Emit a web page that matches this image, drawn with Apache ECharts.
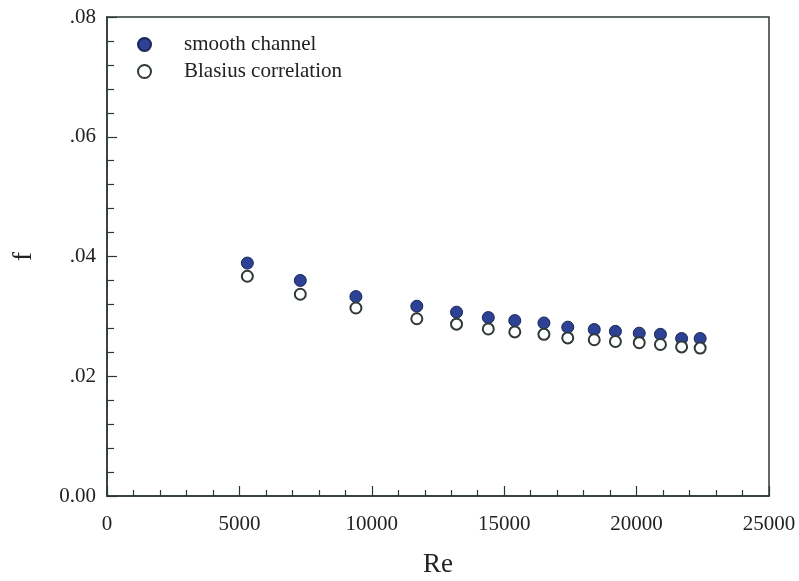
<!DOCTYPE html>
<html>
<head>
<meta charset="utf-8">
<script src="https://cdn.jsdelivr.net/npm/echarts@6/dist/echarts.min.js"></script>
<style>
html,body{margin:0;padding:0;background:#fff;}
#c{width:799px;height:581px;}
</style>
</head>
<body>
<div id="c"></div>
<script>
var reynolds = [5300, 7300, 9400, 11700, 13200, 14400, 15400, 16500, 17400, 18400, 19200, 20100, 20900, 21700, 22400];
var smoothChannel = [0.0389, 0.0360, 0.0333, 0.0317, 0.0307, 0.0298, 0.0293, 0.0289, 0.0282, 0.0278, 0.0275, 0.0272, 0.0270, 0.0263, 0.0263];
var blasius = [0.0367, 0.0337, 0.0314, 0.0296, 0.0287, 0.0279, 0.0274, 0.0270, 0.0264, 0.0261, 0.0258, 0.0256, 0.0253, 0.0249, 0.0247];
var seriesNames = ['smooth channel', 'Blasius correlation'];
var xTicks = [0, 5000, 10000, 15000, 20000, 25000];
var yTickLabels = {0: '0.00', 0.02: '.02', 0.04: '.04', 0.06: '.06', 0.08: '.08'};

function pairs(xs, ys) { return xs.map(function (x, i) { return [x, ys[i]]; }); }

var font = 'Liberation Serif';
var axisColor = '#2c3833';
var chart = echarts.init(document.getElementById('c'), null, {renderer: 'canvas'});
chart.setOption({
  backgroundColor: '#fff',
  animation: false,
  grid: {left: 107, right: 30, top: 17, bottom: 85, containLabel: false, outerBoundsMode: 'none',
         show: true, borderColor: axisColor, borderWidth: 1.5, backgroundColor: 'transparent'},
  legend: {
    orient: 'vertical', left: 132, top: 29, itemGap: 6, itemWidth: 13, itemHeight: 13,
    data: [
      {name: seriesNames[0], icon: 'circle'},
      {name: seriesNames[1], icon: 'circle'}
    ],
    textStyle: {fontFamily: font, fontSize: 21, color: '#222', padding: [0, 0, 0, 28]}
  },
  xAxis: {
    type: 'value', min: 0, max: 25000, interval: 5000,
    name: 'Re', nameLocation: 'middle', nameGap: 55,
    nameTextStyle: {fontFamily: font, fontSize: 27, color: '#222'},
    axisLine: {lineStyle: {color: axisColor, width: 1.5}},
    axisTick: {inside: true, length: 10, lineStyle: {color: axisColor, width: 1.2}},
    minorTick: {show: true, splitNumber: 5, length: 6, lineStyle: {color: axisColor, width: 1.2}},
    axisLabel: {fontFamily: font, fontSize: 21, color: '#222', margin: 18, formatter: function (v) { return String(v); }},
    splitLine: {show: false}
  },
  yAxis: {
    type: 'value', min: 0, max: 0.08, interval: 0.02,
    name: 'f', nameLocation: 'middle', nameGap: 70, nameRotate: 90,
    nameTextStyle: {fontFamily: font, fontSize: 27, color: '#222'},
    axisLine: {lineStyle: {color: axisColor, width: 1.5}},
    axisTick: {inside: true, length: 10, lineStyle: {color: axisColor, width: 1.2}},
    minorTick: {show: true, splitNumber: 5, length: 7, lineStyle: {color: axisColor, width: 1.2}},
    axisLabel: {fontFamily: font, fontSize: 21, color: '#222', margin: 11, formatter: function (v) {
      var k = Math.round(v * 100) / 100; return yTickLabels[k] !== undefined ? yTickLabels[k] : String(v);
    }},
    splitLine: {show: false}
  },
  series: [
    {
      name: seriesNames[0], type: 'scatter', symbol: 'circle', symbolSize: 12,
      data: pairs(reynolds, smoothChannel),
      itemStyle: {color: '#2d4294', borderColor: '#1a2552', borderWidth: 1, opacity: 1}
    },
    {
      name: seriesNames[1], type: 'scatter', symbol: 'circle', symbolSize: 11,
      data: pairs(reynolds, blasius),
      itemStyle: {color: '#ffffff', borderColor: '#2f3a38', borderWidth: 2, opacity: 1}
    }
  ]
});
</script>
</body>
</html>
